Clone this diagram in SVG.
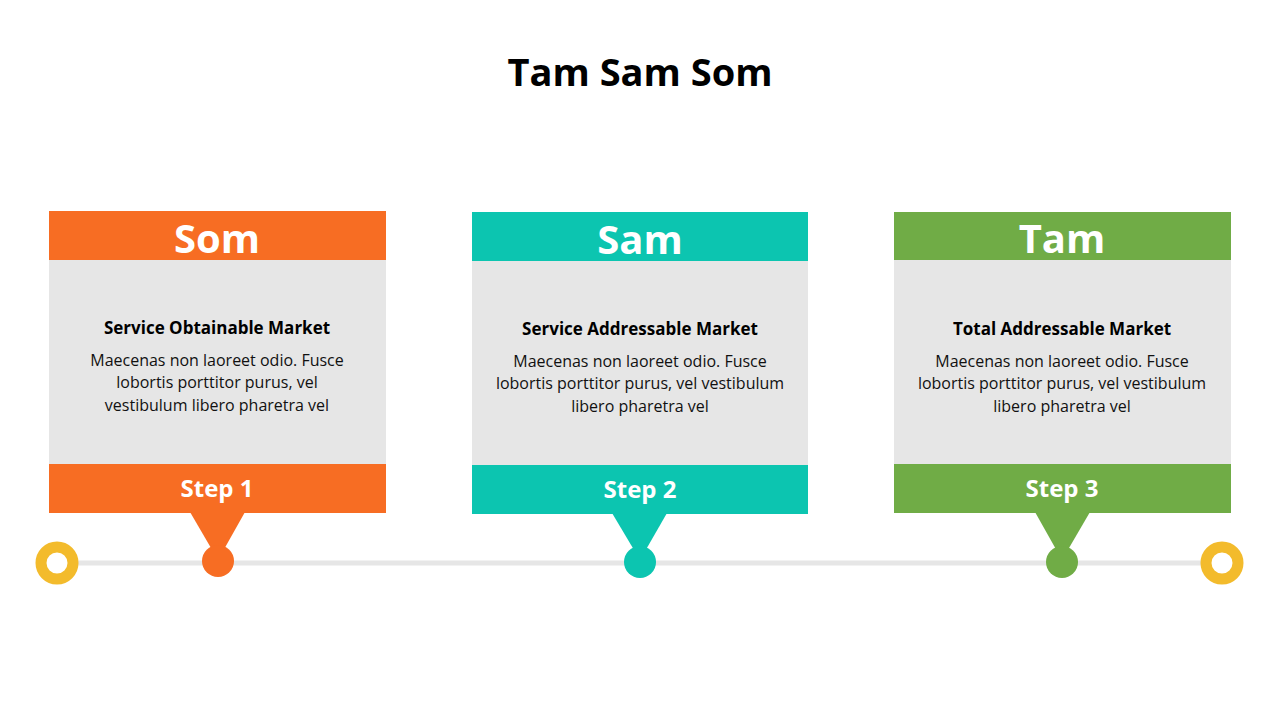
<svg xmlns="http://www.w3.org/2000/svg" width="1280" height="720" viewBox="0 0 1280 720">
<style>
text{font-family:"Open Sans","Noto Sans","Liberation Sans",sans-serif;text-anchor:middle}
.t{font-size:40px;font-weight:bold;fill:#fff}
.s{font-size:24px;font-weight:bold;fill:#fff}
.h{font-size:17px;font-weight:bold;fill:#000}
.b{font-size:16px;fill:#111}
.body{fill:#e6e6e6}
</style>
<rect width="1280" height="720" fill="#fff"/>
<text x="640" y="86" style="font-size:38px;font-weight:bold;fill:#000">Tam Sam Som</text>
<g id="connectors">
<line x1="57" y1="563" x2="1222" y2="563" stroke="#e6e6e6" stroke-width="5"/>
</g>
<g id="end-left"><circle cx="57" cy="563" r="16" fill="#fff" stroke="#f3bb2c" stroke-width="11"/></g>
<g id="end-right"><circle cx="1222" cy="563" r="16" fill="#fff" stroke="#f3bb2c" stroke-width="11"/></g>
<g id="som">
<rect x="49" y="211" width="337" height="302" class="body"/>
<rect x="49" y="211" width="337" height="49" fill="#f76d23"/>
<rect x="49" y="464" width="337" height="49" fill="#f76d23"/>
<polygon points="190,512 245,512 218,560" fill="#f76d23"/>
<circle cx="218" cy="561" r="16" fill="#f76d23"/>
<text x="217" y="253" class="t">Som</text>
<text x="217" y="497" class="s">Step 1</text>
<text x="217" y="334" class="h">Service Obtainable Market</text>
<text x="217" y="366" class="b">Maecenas non laoreet odio. Fusce</text>
<text x="217" y="388" class="b">lobortis porttitor purus, vel</text>
<text x="217" y="411" class="b">vestibulum libero pharetra vel</text>
</g>
<g id="sam">
<rect x="472" y="212" width="336" height="302" class="body"/>
<rect x="472" y="212" width="336" height="49" fill="#0cc5b0"/>
<rect x="472" y="465" width="336" height="49" fill="#0cc5b0"/>
<polygon points="612,513 667,513 640,560" fill="#0cc5b0"/>
<circle cx="640" cy="562" r="16" fill="#0cc5b0"/>
<text x="640" y="254" class="t">Sam</text>
<text x="640" y="498" class="s">Step 2</text>
<text x="640" y="335" class="h">Service Addressable Market</text>
<text x="640" y="367" class="b">Maecenas non laoreet odio. Fusce</text>
<text x="640" y="389" class="b">lobortis porttitor purus, vel vestibulum</text>
<text x="640" y="412" class="b">libero pharetra vel</text>
</g>
<g id="tam">
<rect x="894" y="212" width="337" height="301" class="body"/>
<rect x="894" y="212" width="337" height="48" fill="#70ac46"/>
<rect x="894" y="464" width="337" height="49" fill="#70ac46"/>
<polygon points="1035,512 1090,512 1062,560" fill="#70ac46"/>
<circle cx="1062" cy="562" r="16" fill="#70ac46"/>
<text x="1062" y="253" class="t">Tam</text>
<text x="1062" y="497" class="s">Step 3</text>
<text x="1062" y="335" class="h">Total  Addressable Market</text>
<text x="1062" y="367" class="b">Maecenas non laoreet odio. Fusce</text>
<text x="1062" y="389" class="b">lobortis porttitor purus, vel vestibulum</text>
<text x="1062" y="412" class="b">libero pharetra vel</text>
</g>
</svg>
